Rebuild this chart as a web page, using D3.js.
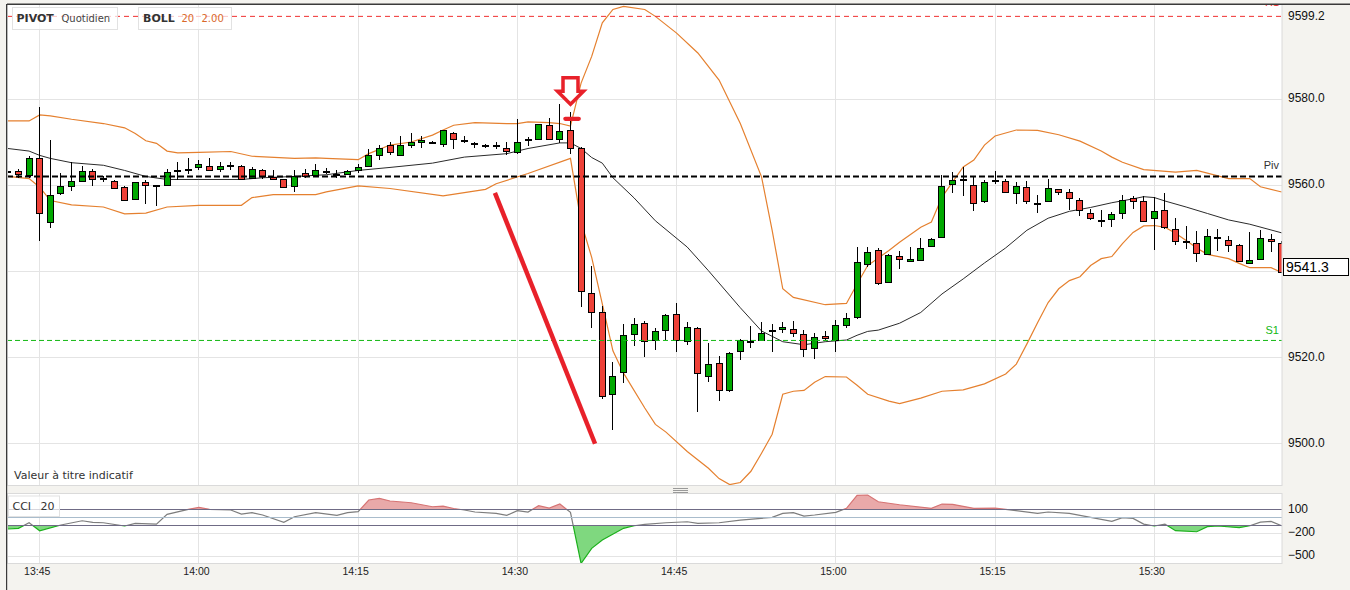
<!DOCTYPE html>
<html><head><meta charset="utf-8">
<script src="https://cdn.jsdelivr.net/npm/d3@7"></script>
<style>html,body{margin:0;padding:0;background:#f4f3ef;}svg{display:block}</style>
</head><body>
<svg id="c" width="1350" height="590"></svg>
<script>
// ---------------- DATA ----------------
// [time, open, high, low, close]
const candles = [
["13:42",9563.3,9563.9,9562.5,9563.1],["13:43",9563.2,9563.7,9561.6,9562.5],["13:44",9562.4,9566.8,9561.6,9566.4],
["13:45",9566.2,9578.1,9546.9,9553.6],["13:46",9551.5,9570.4,9550.1,9557.8],["13:47",9558.2,9562.7,9557.6,9559.8],
["13:48",9559.8,9565.4,9558.6,9561.0],["13:49",9561.0,9564.5,9560.9,9563.2],["13:50",9563.3,9563.7,9559.9,9561.5],
["13:51",9561.6,9562.0,9560.7,9561.5],["13:52",9561.0,9561.1,9559.0,9559.3],["13:53",9559.5,9559.9,9556.3,9556.6],
["13:54",9556.8,9560.7,9556.7,9560.6],["13:55",9560.8,9561.1,9555.7,9560.1],["13:56",9560.0,9560.1,9555.1,9560.0],
["13:57",9560.1,9563.7,9559.9,9563.1],["13:58",9563.4,9565.4,9561.1,9563.4],["13:59",9563.8,9566.2,9562.5,9563.8],
["14:00",9564.2,9565.8,9563.4,9564.8],["14:01",9564.5,9566.2,9563.4,9563.6],["14:02",9563.8,9565.4,9563.0,9564.5],
["14:03",9564.7,9565.3,9563.4,9564.7],["14:04",9564.5,9564.6,9561.1,9561.3],["14:05",9561.7,9564.2,9561.3,9563.7],
["14:06",9563.6,9563.7,9561.5,9562.1],["14:07",9561.9,9563.4,9561.1,9561.3],["14:08",9561.3,9561.5,9559.3,9559.5],
["14:09",9559.8,9563.4,9558.5,9562.0],["14:10",9562.7,9563.8,9561.7,9562.0],["14:11",9562.4,9565.0,9562.0,9563.6],
["14:12",9563.3,9564.0,9562.6,9563.3],["14:13",9562.6,9563.4,9561.7,9562.5],["14:14",9562.6,9563.4,9562.3,9563.2],
["14:15",9563.6,9564.8,9562.8,9564.1],["14:16",9564.5,9568.3,9564.4,9566.9],["14:17",9566.9,9569.3,9565.8,9568.7],
["14:18",9569.2,9569.9,9566.9,9567.6],["14:19",9566.9,9571.4,9566.8,9569.4],["14:20",9569.4,9572.0,9568.5,9569.9],
["14:21",9569.9,9571.4,9568.5,9570.4],["14:22",9570.0,9570.2,9569.8,9570.0],["14:23",9569.5,9572.9,9568.9,9572.7],
["14:24",9572.1,9572.4,9568.3,9570.8],["14:25",9570.4,9571.4,9569.7,9570.4],["14:26",9569.7,9570.1,9568.6,9569.7],
["14:27",9569.2,9569.6,9568.6,9569.2],["14:28",9569.3,9570.1,9568.3,9569.3],["14:29",9568.7,9570.0,9566.9,9568.0],
["14:30",9567.8,9575.3,9567.3,9569.9],["14:31",9570.4,9571.2,9569.0,9570.8],["14:32",9570.8,9574.3,9570.4,9574.1],
["14:33",9573.9,9575.5,9570.4,9570.8],["14:34",9570.6,9578.8,9569.7,9572.5],["14:35",9572.8,9577.0,9567.3,9568.5],
["14:36",9568.6,9568.8,9531.7,9535.4],["14:37",9534.9,9541.3,9526.9,9530.5],["14:38",9530.5,9531.8,9510.2,9511.1],
["14:39",9511.4,9519.0,9503.2,9515.6],["14:40",9516.6,9527.7,9514.1,9525.2],["14:41",9525.5,9529.2,9522.6,9527.7],
["14:42",9527.9,9528.5,9520.1,9523.7],["14:43",9523.9,9526.7,9521.7,9526.1],["14:44",9526.3,9530.0,9524.0,9529.8],
["14:45",9530.0,9532.7,9521.1,9523.9],["14:46",9523.7,9528.1,9522.8,9527.0],["14:47",9526.8,9527.0,9507.3,9516.3],
["14:48",9515.6,9523.2,9514.3,9518.4],["14:49",9518.6,9520.3,9509.8,9512.5],["14:50",9512.3,9521.2,9512.0,9520.9],
["14:51",9521.4,9524.3,9519.4,9524.0],["14:52",9523.8,9527.2,9522.2,9523.8],["14:53",9523.9,9528.1,9523.8,9525.6],
["14:54",9526.4,9527.7,9521.3,9526.4],["14:55",9526.5,9528.3,9525.7,9527.1],["14:56",9526.5,9528.5,9524.6,9525.7],
["14:57",9525.4,9526.3,9520.1,9521.9],["14:58",9522.1,9525.6,9519.5,9524.6],["14:59",9524.9,9526.1,9524.0,9524.4],
["15:00",9524.0,9528.7,9521.2,9527.5],["15:01",9527.5,9530.2,9526.9,9529.2],["15:02",9529.4,9545.7,9528.9,9542.2],
["15:03",9541.6,9545.7,9540.9,9544.5],["15:04",9544.8,9545.4,9536.8,9537.2],["15:05",9537.4,9544.0,9537.3,9543.8],
["15:06",9543.6,9544.6,9540.4,9542.8],["15:07",9542.4,9545.7,9542.3,9542.9],["15:08",9542.5,9547.7,9542.3,9545.4],
["15:09",9545.9,9547.6,9545.8,9547.5],["15:10",9548.0,9562.3,9547.8,9559.8],["15:11",9560.3,9563.1,9558.2,9561.1],
["15:12",9561.3,9564.1,9557.4,9561.3],["15:13",9560.1,9561.9,9553.9,9555.9],["15:14",9556.3,9561.1,9555.9,9560.6],
["15:15",9561.1,9563.2,9560.3,9561.1],["15:16",9560.9,9561.3,9558.2,9558.5],["15:17",9558.2,9560.7,9555.7,9559.9],
["15:18",9559.5,9560.9,9555.7,9556.4],["15:19",9555.8,9557.6,9553.4,9555.8],["15:20",9556.3,9561.3,9556.1,9559.4],
["15:21",9559.1,9559.2,9557.8,9558.5],["15:22",9558.4,9559.0,9554.3,9557.1],["15:23",9556.6,9556.9,9552.9,9554.3],
["15:24",9553.6,9554.5,9552.0,9552.4],["15:25",9552.0,9554.1,9550.2,9552.0],["15:26",9552.1,9553.7,9550.2,9553.2],
["15:27",9553.5,9557.8,9552.2,9556.6],["15:28",9557.0,9557.4,9554.5,9556.2],["15:29",9556.2,9557.4,9551.5,9551.6],
["15:30",9552.4,9557.2,9544.8,9553.9],["15:31",9554.1,9558.2,9549.9,9550.2],["15:32",9549.9,9552.4,9546.0,9547.0],
["15:33",9546.9,9550.4,9545.2,9546.9],["15:34",9546.6,9549.4,9542.2,9544.3],["15:35",9544.0,9549.9,9543.8,9548.2],
["15:36",9547.9,9549.7,9544.6,9547.9],["15:37",9547.3,9548.1,9544.5,9546.0],["15:38",9546.0,9546.4,9542.1,9542.3],
["15:39",9542.0,9549.2,9541.7,9542.6],["15:40",9542.8,9549.6,9542.5,9547.7],["15:41",9547.5,9548.7,9544.4,9547.1],
["15:42",9546.6,9546.9,9539.6,9539.7]
];

const upperBand = [
["13:42",9574.9],["13:44",9574.9],["13:45",9576.3],["13:46",9576.1],["13:48",9575.3],["13:51",9574.3],["13:53",9573.3],
["13:54",9572.0],["13:55",9570.3],["13:56",9569.7],["13:57",9567.9],["13:58",9567.5],["14:00",9567.6],["14:03",9567.8],
["14:05",9566.7],["14:09",9566.2],["14:11",9566.3],["14:12",9566.2],["14:15",9565.9],["14:16",9567.3],["14:18",9569.3],
["14:20",9570.0],["14:22",9571.6],["14:23",9572.8],["14:24",9573.9],["14:26",9574.5],["14:29",9574.3],["14:30",9574.3],
["14:31",9574.7],["14:33",9574.5],["14:34",9574.3],["14:35",9573.7],["14:36",9583.7],["14:37",9589.9],["14:38",9597.7],
["14:39",9600.8],["14:40",9601.5],["14:42",9600.8],["14:43",9599.2],["14:45",9595.3],["14:47",9590.7],["14:49",9584.4],
["14:51",9574.3],["14:53",9561.9],["14:54",9549.5],["14:55",9535.9],["14:56",9533.9],["14:59",9532.2],["15:01",9532.5],
["15:02",9537.0],["15:03",9541.3],["15:05",9544.8],["15:06",9546.7],["15:08",9550.2],["15:09",9551.4],["15:10",9557.2],
["15:12",9564.2],["15:13",9565.8],["15:14",9569.3],["15:15",9571.4],["15:17",9572.8],["15:19",9572.7],["15:21",9571.7],
["15:23",9570.2],["15:25",9567.9],["15:26",9566.5],["15:27",9565.3],["15:29",9563.6],["15:32",9563.0],["15:34",9563.4],
["15:37",9561.5],["15:39",9561.5],["15:40",9559.6],["15:42",9558.4]
];

const middleBand = [
["13:42",9568.5],["13:44",9567.9],["13:45",9566.9],["13:46",9566.2],["13:48",9565.2],["13:51",9564.6],["13:53",9563.4],
["13:55",9562.0],["13:57",9561.3],["14:00",9561.3],["14:04",9561.3],["14:06",9561.7],["14:09",9562.0],["14:12",9562.4],
["14:15",9563.4],["14:18",9564.1],["14:22",9565.1],["14:25",9566.5],["14:29",9567.3],["14:31",9568.5],["14:34",9569.8],
["14:35",9569.8],["14:36",9568.5],["14:37",9566.4],["14:38",9565.1],["14:39",9561.7],["14:41",9557.0],["14:43",9551.7],
["14:46",9545.6],["14:48",9540.1],["14:51",9531.5],["14:53",9526.1],["14:55",9523.6],["14:57",9522.9],["14:59",9523.6],
["15:01",9524.0],["15:02",9525.1],["15:03",9526.0],["15:04",9526.3],["15:06",9527.9],["15:08",9530.4],["15:10",9534.7],
["15:12",9538.2],["15:14",9541.9],["15:16",9545.4],["15:18",9549.5],["15:20",9552.3],["15:22",9553.9],["15:24",9554.8],
["15:26",9555.9],["15:28",9556.8],["15:29",9557.3],["15:30",9557.1],["15:31",9556.3],["15:33",9554.9],["15:35",9553.4],
["15:37",9551.9],["15:39",9550.9],["15:42",9548.9]
];

const lowerBand = [
["13:42",9562.0],["13:44",9561.5],["13:45",9559.5],["13:46",9556.4],["13:48",9555.4],["13:51",9554.9],["13:53",9553.3],
["13:55",9553.5],["13:57",9554.9],["14:00",9555.3],["14:04",9555.3],["14:05",9557.1],["14:07",9557.8],["14:11",9557.8],
["14:12",9558.4],["14:15",9559.8],["14:18",9559.2],["14:23",9557.5],["14:27",9559.0],["14:28",9560.3],["14:31",9562.7],
["14:35",9566.2],["14:36",9551.4],["14:37",9543.2],["14:38",9532.4],["14:39",9521.5],["14:40",9516.3],["14:42",9508.2],
["14:43",9504.4],["14:44",9502.6],["14:46",9498.1],["14:48",9494.2],["14:49",9491.8],["14:50",9490.4],["14:51",9490.9],
["14:52",9493.5],["14:53",9497.7],["14:54",9502.1],["14:55",9511.4],["14:56",9512.1],["14:57",9512.3],["14:58",9514.2],
["14:59",9515.5],["15:01",9515.4],["15:02",9513.5],["15:03",9511.4],["15:05",9509.8],["15:06",9509.2],["15:08",9510.5],
["15:10",9512.1],["15:12",9512.4],["15:14",9513.8],["15:16",9516.1],["15:17",9518.4],["15:18",9523.1],["15:19",9528.0],
["15:20",9532.7],["15:21",9535.9],["15:22",9537.8],["15:23",9538.7],["15:24",9541.3],["15:25",9542.9],["15:26",9543.4],
["15:27",9546.4],["15:28",9549.0],["15:29",9550.5],["15:30",9550.6],["15:31",9550.2],["15:32",9548.8],["15:33",9547.1],
["15:34",9545.4],["15:35",9543.9],["15:37",9542.9],["15:38",9541.8],["15:39",9540.8],["15:41",9540.8],["15:42",9539.7]
];

const cci = [
["13:42",-155],["13:43",-146],["13:44",-74],["13:45",-177],["13:47",-103],["13:49",-48],["13:50",-69],["13:51",-74],
["13:53",-116],["13:54",-82],["13:56",-91],["13:57",35],["13:59",100],["14:00",125],["14:01",100],["14:03",91],
["14:04",39],["14:05",56],["14:06",26],["14:08",-69],["14:09",4],["14:11",56],["14:13",22],["14:14",56],["14:15",69],
["14:16",220],["14:17",242],["14:18",207],["14:20",185],["14:22",133],["14:23",142],["14:24",110],["14:25",91],
["14:26",65],["14:28",48],["14:29",22],["14:30",82],["14:31",65],["14:32",146],["14:33",116],["14:34",168],["14:35",60],
["14:36",-600],["14:37",-405],["14:38",-298],["14:40",-146],["14:41",-113],["14:42",-94],["14:44",-74],["14:46",-61],
["14:47",-82],["14:49",-74],["14:51",-39],["14:54",-4],["14:55",48],["14:56",56],["14:57",13],["14:58",26],["15:00",61],
["15:01",113],["15:02",281],["15:03",285],["15:04",198],["15:06",159],["15:09",113],["15:10",168],["15:11",164],
["15:13",113],["15:15",116],["15:16",100],["15:19",48],["15:20",65],["15:22",48],["15:26",-56],["15:27",-9],["15:28",-17],
["15:29",-91],["15:30",-116],["15:31",-91],["15:32",-177],["15:34",-190],["15:35",-125],["15:36",-116],["15:38",-138],
["15:39",-113],["15:40",-65],["15:41",-56],["15:42",-113]
];

const timeTicks = ["13:45","14:00","14:15","14:30","14:45","15:00","15:15","15:30"];
const priceGrid = [9500,9520,9540,9560,9580];
const priceLabels = [9500,9520,9560,9580];   // 9540.0 is hidden behind the last-price box
const cciTicks = [100,-200,-500];
const cciLevels = [100,0,-100];
const pivotNames = ["R1","Piv","S1"];
const pivotValues = [9599.2,9562.0,9523.9];
const lastPrice = 9541.3;
// annotations
const arrowAnchor = ["14:35",9578.8];
const markDash = [["14:34:31",9575.4],["14:35:47",9575.4]];
const trendLine = [["14:27:53",9558.2],["14:37:19",9499.9]];

// ---------------- CHART ----------------
const W=1350,H=590;
const svg=d3.select("#c");
const parseT = s => { const p=s.split(":").map(Number); return new Date(2024,0,2,p[0],p[1],p[2]||0); };
const P={l:7,r:1282,t:4,b:485};
const C={t:493,b:563};
const x=d3.scaleTime().domain([parseT("13:45"),parseT("15:30")]).range([39.7,1154.3]);
const y=d3.scaleLinear().domain([9500,9580]).range([443.3,99]);
const yc=d3.scaleLinear().domain([-500,100]).range([555.7,509.3]);
const AX="Liberation Sans, Arial, sans-serif";
const DJ="DejaVu Sans, Verdana, sans-serif";

svg.append("rect").attr("width",W).attr("height",H).attr("fill","#f4f3ef");
const defs=svg.append("defs");
function clip(id,x0,y0,x1,y1){defs.append("clipPath").attr("id",id).append("rect").attr("x",x0).attr("y",y0).attr("width",x1-x0).attr("height",y1-y0);}
const y100=Math.round(yc(100))+0.5, yM100=Math.round(yc(-100))+0.5;
clip("cm",P.l,P.t,P.r,P.b);
clip("cc",P.l,C.t,P.r,C.b);
clip("cUp",P.l,C.t,P.r,y100);
clip("cMid",P.l,y100,P.r,yM100);
clip("cDn",P.l,yM100,P.r,C.b);

// panels
svg.append("rect").attr("x",P.l).attr("y",P.t).attr("width",P.r-P.l).attr("height",P.b-P.t).attr("fill","#fff");
svg.append("rect").attr("x",P.l).attr("y",C.t).attr("width",P.r-P.l).attr("height",C.b-C.t).attr("fill","#fff");

const gm=svg.append("g").attr("clip-path","url(#cm)");
// grid
gm.selectAll(".vg").data(timeTicks).join("line")
  .attr("x1",d=>Math.floor(x(parseT(d)))+0.5).attr("x2",d=>Math.floor(x(parseT(d)))+0.5)
  .attr("y1",P.t).attr("y2",P.b).attr("stroke","#e4e4e4");
gm.selectAll(".hg").data(priceGrid).join("line")
  .attr("x1",P.l).attr("x2",P.r).attr("y1",d=>Math.round(y(d))+0.5).attr("y2",d=>Math.round(y(d))+0.5).attr("stroke","#e4e4e4");

gm.append("text").attr("x",14).attr("y",479).attr("font-family",DJ).attr("font-size",11).attr("fill","#333").text("Valeur à titre indicatif");

// bands
const ln=d3.line().x(d=>x(parseT(d[0]))).y(d=>y(d[1]));
gm.append("path").attr("d",ln(upperBand)).attr("fill","none").attr("stroke","#e5802f").attr("stroke-width",1.2);
gm.append("path").attr("d",ln(lowerBand)).attr("fill","none").attr("stroke","#e5802f").attr("stroke-width",1.2);
gm.append("path").attr("d",ln(middleBand)).attr("fill","none").attr("stroke","#2b2b2b").attr("stroke-width",1);

// candles
const cg=gm.append("g");
candles.forEach(d=>{
  const [t,o,h,l,c]=d;
  const r=Math.floor(x(parseT(t)));
  cg.append("line").attr("x1",r+0.5).attr("x2",r+0.5).attr("y1",Math.round(y(h))).attr("y2",Math.round(y(l))).attr("stroke","#000").attr("stroke-width",1);
  const yt=Math.round(y(Math.max(o,c))), yb=Math.round(y(Math.min(o,c)));
  const hh=Math.max(1,yb-yt);
  const fill = c>o ? "#00a800" : (c<o ? "#ee4138" : "#000");
  cg.append("rect").attr("x",r-2.5).attr("y",yt+0.5).attr("width",6).attr("height",hh)
    .attr("fill",fill).attr("stroke","#000").attr("stroke-width",1);
});

// pivot lines
const pvStyle={R1:{c:"#f03030",w:1,da:"5,4",dy:-10},Piv:{c:"#000",w:2,da:"6,3",dy:-7},S1:{c:"#14b814",w:1,da:"5,3",dy:-6}};
pivotNames.forEach((n,i)=>{
  const yy=y(pivotValues[i]); const s=pvStyle[n];
  gm.append("line").attr("x1",P.l).attr("x2",P.r).attr("y1",yy).attr("y2",yy).attr("stroke",s.c).attr("stroke-width",s.w).attr("stroke-dasharray",s.da);
  gm.append("text").attr("x",1279).attr("y",yy+s.dy).attr("text-anchor","end").attr("font-family",AX).attr("font-size",11)
    .attr("fill",n==="Piv"?"#333":s.c).text(n);
});

// annotations
const ax=Math.floor(x(parseT(arrowAnchor[0])))+0.5, ay=y(arrowAnchor[1]);
const arrowShape=[[0,0],[-13,-13],[-7.5,-13],[-7.5,-26.5],[7.5,-26.5],[7.5,-13],[13,-13]];
gm.append("polygon").attr("points",arrowShape.map(p=>[ax+p[0],ay+p[1]].join(",")).join(" "))
  .attr("fill","#fff").attr("stroke","#e8212a").attr("stroke-width",3.5).attr("stroke-linejoin","miter");
gm.append("line").attr("x1",x(parseT(markDash[0][0]))).attr("x2",x(parseT(markDash[1][0])))
  .attr("y1",y(markDash[0][1])).attr("y2",y(markDash[1][1])).attr("stroke","#e8212a").attr("stroke-width",4.2).attr("stroke-linecap","round");
gm.append("line").attr("x1",x(parseT(trendLine[0][0]))).attr("y1",y(trendLine[0][1]))
  .attr("x2",x(parseT(trendLine[1][0]))).attr("y2",y(trendLine[1][1])).attr("stroke","#e8212a").attr("stroke-width",4.5);

// ---- CCI panel ----
const gc=svg.append("g").attr("clip-path","url(#cc)");
gc.selectAll(".cvg").data(timeTicks).join("line")
  .attr("x1",d=>Math.floor(x(parseT(d)))+0.5).attr("x2",d=>Math.floor(x(parseT(d)))+0.5)
  .attr("y1",C.t).attr("y2",C.b).attr("stroke","#e4e4e4");
gc.selectAll(".chg").data([-200,-500]).join("line")
  .attr("x1",P.l).attr("x2",P.r).attr("y1",d=>Math.round(yc(d))+0.5).attr("y2",d=>Math.round(yc(d))+0.5).attr("stroke","#e4e4e4");
const cx=d=>x(parseT(d[0]));
const cl=d3.line().x(cx).y(d=>yc(d[1]));
gc.append("g").attr("clip-path","url(#cUp)").call(g=>{
  g.append("path").attr("d",d3.area().x(cx).y0(y100+2).y1(d=>yc(d[1]))(cci)).attr("fill","#e9a9a9");
  g.append("path").attr("d",cl(cci)).attr("fill","none").attr("stroke","#d67474").attr("stroke-width",1.2);
});
gc.append("g").attr("clip-path","url(#cDn)").call(g=>{
  g.append("path").attr("d",d3.area().x(cx).y0(yM100-2).y1(d=>yc(d[1]))(cci)).attr("fill","#7fd87f");
  g.append("path").attr("d",cl(cci)).attr("fill","none").attr("stroke","#1cb01c").attr("stroke-width",1.2);
});
gc.append("g").attr("clip-path","url(#cMid)").append("path").attr("d",cl(cci)).attr("fill","none").attr("stroke","#7d7d7d").attr("stroke-width",1.2);
gc.selectAll(".lvl").data(cciLevels).join("line")
  .attr("x1",P.l).attr("x2",P.r).attr("y1",d=>Math.round(yc(d))+0.5).attr("y2",d=>Math.round(yc(d))+0.5)
  .attr("stroke",d=>d===0?"#a9bccc":"#6f6b85").attr("stroke-width",1.1);

// ---- frames ----
svg.append("rect").attr("x",P.l+0.5).attr("y",P.t+0.5).attr("width",P.r-P.l-0.5).attr("height",P.b-P.t).attr("fill","none").attr("stroke","#dadada");
svg.append("rect").attr("x",P.l+0.5).attr("y",C.t+0.5).attr("width",P.r-P.l-0.5).attr("height",C.b-C.t).attr("fill","none").attr("stroke","#dadada");
svg.append("line").attr("x1",P.l).attr("x2",W).attr("y1",4.2).attr("y2",4.2).attr("stroke","#3a3a3a").attr("stroke-width",1.4);
svg.append("line").attr("x1",6.6).attr("x2",6.6).attr("y1",4).attr("y2",H).attr("stroke","#3a3a3a").attr("stroke-width",1.2);
// grip
[489,491,493].forEach(v=>svg.append("line").attr("x1",673).attr("x2",688).attr("y1",v-0.5).attr("y2",v-0.5).attr("stroke","#999").attr("stroke-width",1));

// ---- axes ----
const yAxis=d3.axisRight(y).tickValues(priceLabels.concat([pivotValues[0]])).tickFormat(d3.format(".1f")).tickSize(0).tickPadding(6);
svg.append("g").attr("transform",`translate(${P.r},-1)`).call(yAxis)
  .call(g=>g.select(".domain").remove())
  .call(g=>g.selectAll("text").attr("font-family",AX).attr("font-size",12).attr("fill","#111"));
const cAxis=d3.axisRight(yc).tickValues(cciTicks).tickFormat(d3.format("d")).tickSize(0).tickPadding(6);
svg.append("g").attr("transform",`translate(${P.r},-1)`).call(cAxis)
  .call(g=>g.select(".domain").remove())
  .call(g=>g.selectAll("text").attr("font-family",AX).attr("font-size",12).attr("fill","#111"));
const xAxis=d3.axisBottom(x).tickValues(timeTicks.map(parseT)).tickFormat(d3.timeFormat("%H:%M")).tickSize(0).tickPadding(5);
svg.append("g").attr("transform",`translate(-3,${C.b})`).call(xAxis)
  .call(g=>g.select(".domain").remove())
  .call(g=>g.selectAll("text").attr("font-family",AX).attr("font-size",10.5).attr("fill","#222"));

// last price box
const ly=y(lastPrice);
svg.append("rect").attr("x",1283.5).attr("y",Math.round(ly-8)+0.5).attr("width",65).attr("height",17).attr("fill","#fff").attr("stroke","#000");
svg.append("text").attr("x",1286).attr("y",ly+6).attr("font-family",AX).attr("font-size",14).attr("fill","#000").text(d3.format(".1f")(lastPrice));

// ---- legends ----
function legend(x0,w,y0,h,parts){
  svg.append("rect").attr("x",x0+0.5).attr("y",y0+0.5).attr("width",w).attr("height",h).attr("fill","#fff").attr("fill-opacity",0.72).attr("stroke","#e2e2e2");
  parts.forEach(p=>svg.append("text").attr("x",p.x).attr("y",p.y).attr("font-family",DJ).attr("font-size",p.s)
    .attr("font-weight",p.b?"bold":"normal").attr("fill",p.c).text(p.t));
}
legend(12,105,7,22,[{x:16.5,y:21.5,s:11,b:true,c:"#333",t:"PIVOT"},{x:61.5,y:21.5,s:10,c:"#444",t:"Quotidien"}]);
legend(138,93,7,22,[{x:143,y:21.5,s:11,b:true,c:"#333",t:"BOLL"},{x:181.5,y:21.5,s:10,c:"#d9692b",t:"20"},{x:201.5,y:21.5,s:10,c:"#d9692b",t:"2.00"}]);
legend(8,51,495.5,20.5,[{x:12.5,y:509.5,s:11,c:"#333",t:"CCI"},{x:40.5,y:509.5,s:11,c:"#333",t:"20"}]);
</script>
</body></html>
